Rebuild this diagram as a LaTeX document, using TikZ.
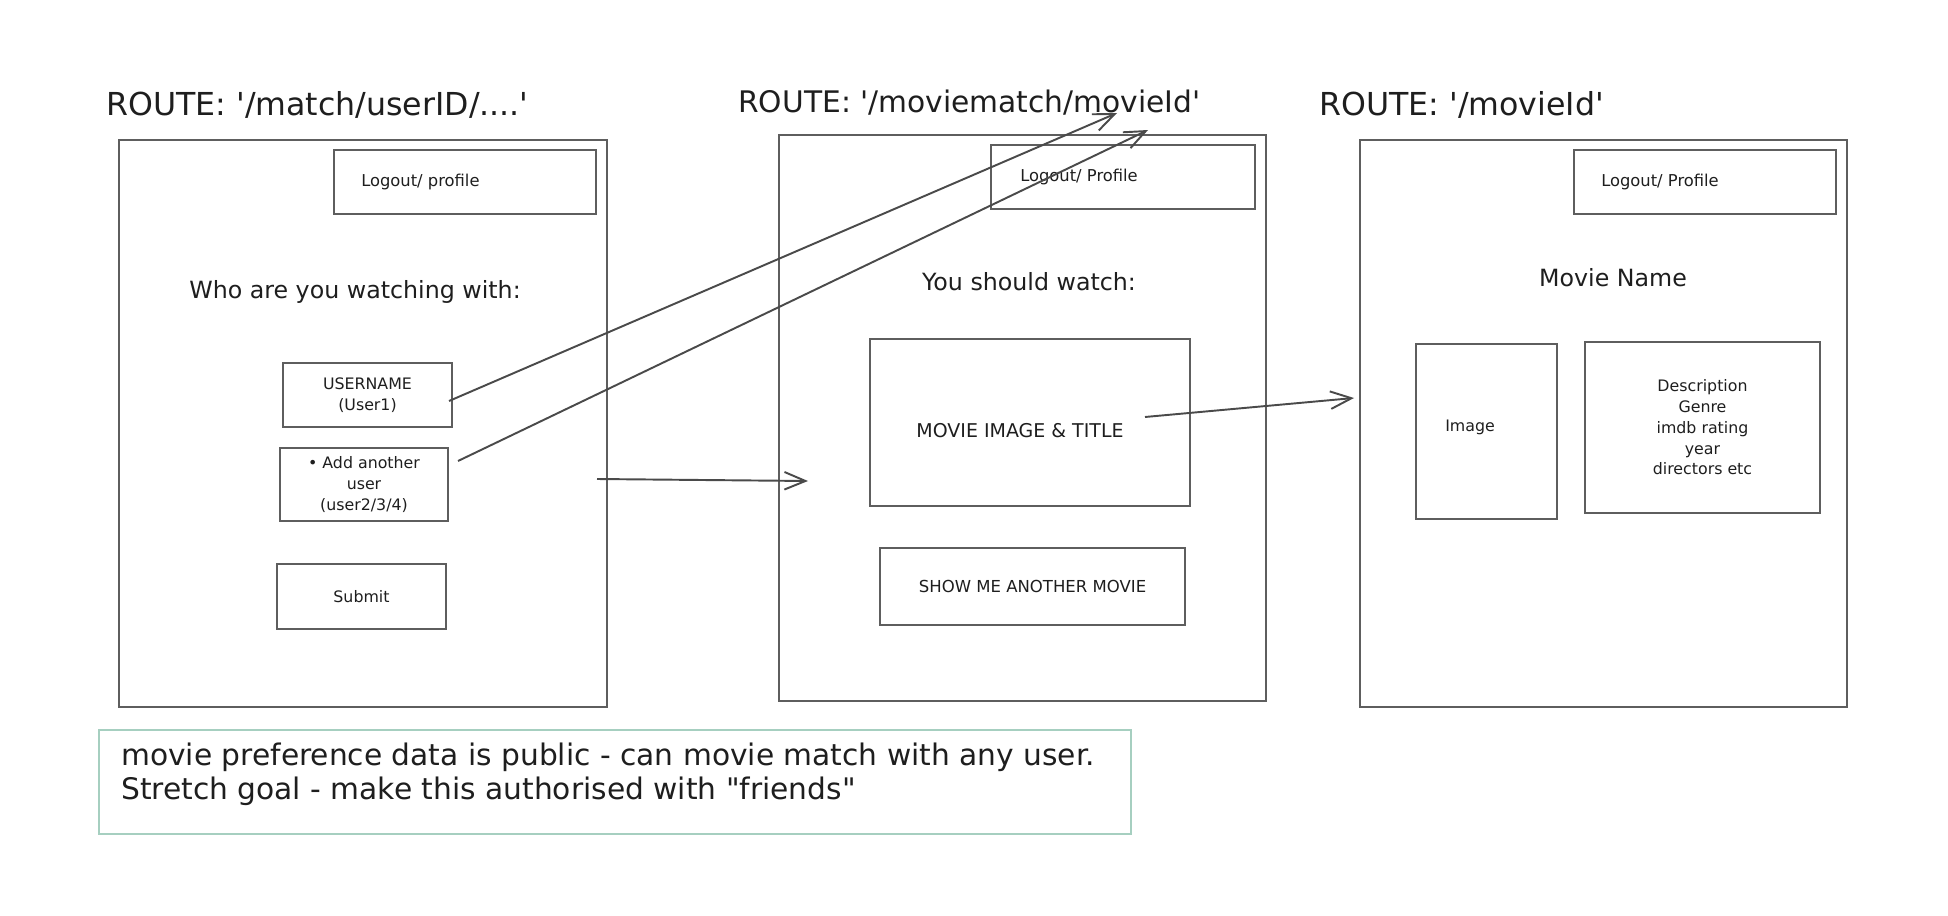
\documentclass[tikz,border=0pt]{standalone}
\usepackage{fontspec}
\setmainfont{DejaVu Sans}
\usetikzlibrary{arrows.meta, calc}

\begin{document}
\begin{tikzpicture}[
    x=0.02cm, y=-0.02cm,
    every node/.style={text=ink},
    route/.style={font=\fontsize{18}{22}\selectfont, anchor=base west, inner xsep=0pt},
    heading/.style={font=\fontsize{13.5}{16}\selectfont},
    small/.style={font=\fontsize{9}{11.8}\selectfont, align=center},
    screen/.style={draw=edge, line width=1.1pt, inner sep=0pt},
    flow/.style={draw=wire, line width=1.1pt,
        -{Straight Barb[length=12pt, width=10pt, line width=1.1pt]}},
]

\definecolor{ink}{HTML}{1E1E1E}
\definecolor{edge}{HTML}{5E5E5E}   % screen outlines
\definecolor{wire}{HTML}{4A4A4A}   % the flow arrows
\definecolor{notegreen}{HTML}{A6CFC0}

\useasboundingbox (0,0) rectangle (1948,916);

% ================================================================
%   three screens, coordinates in pixels of the sketch
%   match       (119,140) .. (607,707)
%   moviematch  (779,135) .. (1266,701)
%   movie       (1360,140) .. (1847,707)
% ================================================================

% ---------------------------------------------------------------- match
\node[route] (route1) at (106,115) {ROUTE: \textquotesingle/match/userID/....\textquotesingle};
\node[screen, minimum width=9.76cm, minimum height=11.34cm] (match) at (363,423.5) {};
\node[screen, minimum width=5.24cm, minimum height=1.28cm] (logout1) at (465,182) {};
\node[small, anchor=west, font=\fontsize{9.3}{11.8}\selectfont] (logout1txt)
    at ($(logout1.west)+(22,0)$) {Logout/ profile};
\node[heading] (who) at (355,292) {Who are you watching with:};
\node[screen, small, minimum width=3.38cm, minimum height=1.28cm] (user) at (367.5,395)
    {USERNAME\\(User1)};
\node[screen, small, minimum width=3.36cm, minimum height=1.46cm] (adduser) at (364,484.5)
    {\textbullet\ Add another\\user\\(user2/3/4)};
\node[screen, small, minimum width=3.38cm, minimum height=1.3cm] (submit) at (361.5,596.5)
    {Submit};

% ---------------------------------------------------------------- moviematch
\node[route, font=\fontsize{16.9}{22}\selectfont] (route2) at (738,112)
    {ROUTE: \textquotesingle/moviematch/movieId\textquotesingle};
\node[screen, minimum width=9.74cm, minimum height=11.32cm] (moviematch) at (1022.5,418) {};
\node[screen, minimum width=5.28cm, minimum height=1.28cm] (logout2) at (1123,177) {};
\node[small, anchor=west, font=\fontsize{9.3}{11.8}\selectfont] (logout2txt)
    at ($(logout2.west)+(24,0)$) {Logout/ Profile};
\node[heading] (should) at (1029,282) {You should watch:};
\node[screen, minimum width=6.4cm, minimum height=3.34cm] (pick) at (1030,422.5) {};
\node[small, font=\fontsize{10.8}{13}\selectfont] (picktxt) at (1020,431)
    {MOVIE IMAGE \& TITLE};
\node[screen, small, font=\fontsize{9.4}{11.8}\selectfont, minimum width=6.1cm,
    minimum height=1.54cm] (another) at (1032.5,586.5) {SHOW ME ANOTHER MOVIE};

% ---------------------------------------------------------------- movie
\node[route] (route3) at (1319,115) {ROUTE: \textquotesingle/movieId\textquotesingle};
\node[screen, minimum width=9.74cm, minimum height=11.34cm] (movie) at (1603.5,423.5) {};
\node[screen, minimum width=5.24cm, minimum height=1.28cm] (logout3) at (1705,182) {};
\node[small, anchor=west, font=\fontsize{9.3}{11.8}\selectfont] (logout3txt)
    at ($(logout3.west)+(22,0)$) {Logout/ Profile};
\node[heading] (moviename) at (1613,278) {Movie Name};
\node[screen, minimum width=2.82cm, minimum height=3.5cm] (image) at (1486.5,431.5) {};
\node[small] (imagetxt) at (1470,427) {Image};
\node[screen, small, minimum width=4.7cm, minimum height=3.42cm] (details) at (1702.5,427.5)
    {Description\\Genre\\imdb rating\\year\\directors etc};

% ---------------------------------------------------------------- note
\node[draw=notegreen, line width=1.2pt, minimum width=20.64cm, minimum height=2.08cm,
    inner sep=0pt] (note) at (615,782) {};
\node[font=\fontsize{16.9}{19.5}\selectfont, align=left, anchor=west] (notetxt)
    at ($(note.west)+(17,-8)$)
    {movie preference data is public - can movie match with any user.\\
     Stretch goal - make this authorised with \textquotedbl friends\textquotedbl};

% ---------------------------------------------------------------- arrows
\coordinate (a1s) at (449,401);
\coordinate (a1e) at (1117,113);
\coordinate (a2s) at (458,461);
\coordinate (a2e) at (1148,130);
\coordinate (a3s) at (597,479);
\coordinate (a3e) at (808,481);
\coordinate (a4s) at (1145,417);
\coordinate (a4e) at (1354,398);

\draw[flow] (a1s) -- (a1e);
\draw[flow] (a2s) -- (a2e);
\draw[flow] (a3s) -- (a3e);
\draw[flow] (a4s) -- (a4e);

\end{tikzpicture}
\end{document}
